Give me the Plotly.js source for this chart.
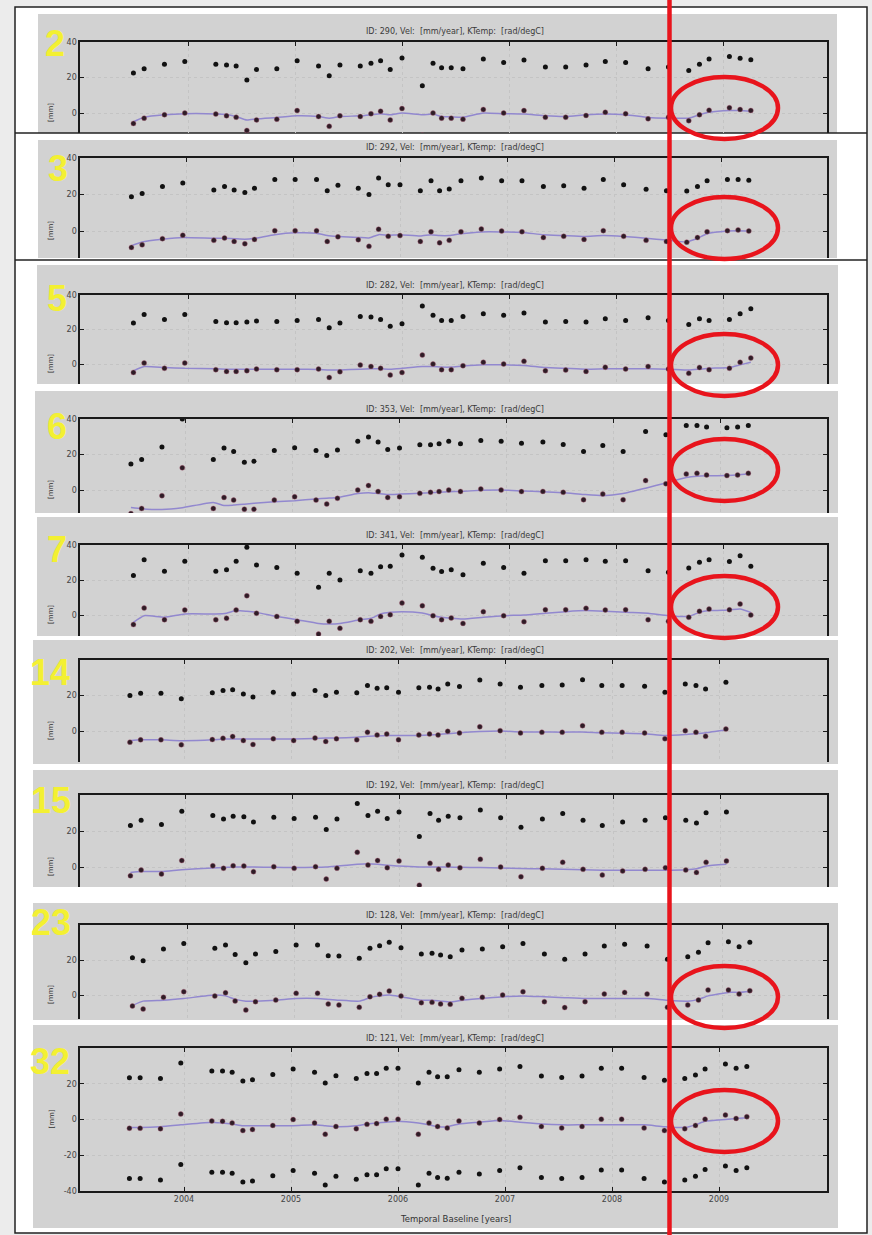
<!DOCTYPE html>
<html><head><meta charset="utf-8">
<script src="https://cdn.plot.ly/plotly-3.0.1.min.js"></script>
<style>html,body{margin:0;padding:0;background:#fff;} #chart{width:872px;height:1235px;}</style>
</head><body><div id="chart"></div>
<script>
// ---------------- DATA ----------------
const dates = [2003.49,2003.59,2003.78,2003.97,2004.26,2004.36,2004.45,2004.55,2004.64,2004.83,
  2005.02,2005.22,2005.32,2005.42,2005.61,2005.71,2005.80,2005.89,2006.00,2006.19,
  2006.29,2006.37,2006.46,2006.57,2006.76,2006.95,2007.14,2007.34,2007.53,2007.72,
  2007.90,2008.09,2008.30,2008.49,2008.68,2008.78,2008.87,2009.06,2009.16,2009.26];
const panelLabels = ['2','3','5','6','7','14','15','23','32'];
const panelIds = ['290','292','282','353','341','202','192','128','121'];
const yearTicks = [2004,2005,2006,2007,2008,2009];
const yTicks = [-40,-20,0,20,40];

const p2_up = [22.5,25,27.5,29,27.5,27,26.5,18.6,24.5,25,29.4,26.5,21,27,26.5,28,29.4,24.5,31,15.3,28,25.5,25.5,25,30.4,28.4,29.8,25.9,25.9,27,29,28.4,25,25.9,24,27.5,30.4,31.8,30.8,30];
const p2_lo = [-5.9,-2.9,-1,0,-0.6,-1.6,-2.4,-9.8,-3.9,-3.5,1.4,-2,-7.5,-1.6,-2,-0.4,1,-3.9,2.5,-12.5,0,-2.9,-2.9,-3.5,2,0,1.4,-2.4,-2.4,-1.4,0.4,-0.4,-3.3,-2.4,-4.3,-1,1.6,3,2,1.4];
const p2_fit = [-4.9,-2.4,-1,-0.4,-0.5,-0.8,-2,-4,-3.3,-2.5,-1.6,-2,-2.9,-2,-1.6,-1,-0.4,-1,0,-1,-0.6,-2,-2.2,-2.4,0,-0.4,-0.6,-1.6,-2,-1,-0.6,-1,-2.5,-2.9,-2.9,-1,0.4,1.4,1.4,1];

const p3_up = [18.7,20.6,24.4,26.3,22.5,24.4,22.5,21.1,23.4,28.2,28.2,28.2,22.1,25,23.4,20,29.1,25.3,25.3,22.1,27.6,22,23,27.6,29,27.6,27.6,24.4,24.8,23.4,28.2,25.3,22.9,22.1,21.9,24.4,27.6,28.2,28.2,27.8];
const p3_lo = [-9,-7.6,-4.2,-2.3,-5.1,-3.8,-5.7,-7,-4.6,0.2,0.2,0.2,-5.7,-3.2,-4.8,-8.4,1,-2.9,-2.5,-5.7,-0.4,-6.5,-5.1,-0.4,1.1,0,-0.4,-3.6,-2.9,-4.6,0.2,-2.9,-5.1,-5.7,-6.1,-3.6,-0.4,0.2,0.6,0];
const p3_fit = [-8,-6,-4.5,-3.5,-4,-4,-4.2,-4.5,-4,-2,-1,-1.2,-2.5,-3,-3.5,-3.8,-2,-2.3,-2,-2.8,-2,-2.5,-2.5,-1.5,-0.5,-0.5,-0.8,-2,-2.5,-3,-2.5,-3,-4,-5,-6,-4,-1.5,0,0.2,0];

const p5_up = [23.7,28.7,25.8,28.7,24.7,23.9,23.9,24.3,24.9,24.7,25.2,25.8,21,23.7,27.6,27.2,25.8,21.9,23.3,33.6,28.2,25.2,25.2,27.6,29.1,28.2,29.5,24.3,24.7,24.3,26.2,25.2,26.8,25.2,22.9,26.2,25.2,25.8,29.1,32];
const p5_lo = [-4.9,0.6,-2.5,0.6,-3.3,-4.3,-4.3,-3.9,-2.9,-3.3,-3.3,-2.9,-7.8,-4.5,-0.6,-1.4,-2.5,-6.4,-4.9,5.2,0,-3.3,-3.3,-1,1,0,1.6,-3.9,-3.5,-4.3,-1.9,-2.9,-1.4,-2.9,-5.4,-2.1,-3.3,-2.5,1,3.5];
const p5_fit = [-4,-1.5,-2,-2.5,-2.8,-3,-3,-3,-3,-3,-3,-3.2,-3.5,-3.5,-3,-2.8,-2.8,-3,-2.5,-1.5,-1.5,-1.8,-1.8,-1.2,-0.5,-0.5,-0.8,-2,-2.5,-3,-2.8,-2.8,-2.8,-3,-3.5,-3,-2.5,-2,-0.5,1];

const p6_up = [14.7,17.2,24.2,40,17.2,23.6,21.7,15.7,16.2,22.3,23.8,22.3,19.4,22.6,27.5,29.8,27,22.8,23.6,25.5,25.5,26,27.5,26,27.9,27.5,26.4,27,25.7,21.7,25.1,21.7,33,31.1,36.4,36.4,35.5,35.1,35.5,36.4];
const p6_lo = [-13.3,-10.4,-3.2,12.5,-10.4,-4.2,-5.7,-10.8,-10.8,-5.7,-3.8,-5.7,-7.9,-4.7,0,2.5,-0.8,-4.2,-3.8,-1.9,-1.3,-0.9,0,-0.8,0.6,0,-0.9,-0.8,-1.3,-5.5,-2.3,-5.5,5.3,3.5,9,9.4,8.5,8.1,8.5,9.4];
const p6_fit = [-9.8,-10.5,-11,-10,-7,-8.7,-8.5,-8,-7.5,-6.6,-6,-5,-4.6,-4.2,-2,-1.5,-2,-2.5,-2.3,-1.8,-1.5,-1.2,-1,-0.8,-0.2,0,-0.5,-1,-1.5,-2.5,-3.2,-2,1,4,7,7.8,8,8.2,8.5,9];

const p7_up = [22.5,31.6,25,30.7,25,25.9,30.7,38.7,28.6,27.2,23.8,15.8,23.8,20,25.3,23.8,27.6,27.8,34.3,33,26.7,24.8,25.9,23,29.5,27.2,23.8,31,31,31.6,30.7,31,25.3,24.4,26.9,30.1,31.6,30.5,33.9,27.8];
const p7_lo = [-5.5,4,-2.7,2.9,-2.7,-1.9,2.9,11,1,-0.8,-3.6,-10.9,-3.6,-7.6,-2.7,-3.6,-0.8,0.2,6.9,5.3,-0.4,-2.7,-1.7,-4.8,1.9,-0.4,-3.8,3,3,3.8,2.9,3,-2.7,-3.6,-1.3,2.1,3.4,3,6.3,0];
const p7_fit = [-4.2,-0.4,-1.3,0.6,0.6,1,2.5,2.1,1.5,-0.8,-2.7,-4.8,-5.1,-4.8,-2.7,-1.9,0.6,1.5,1.9,1.1,-0.4,-1.3,-1.9,-2.3,-1.3,-0.4,0,1,1.9,2.5,2.1,1.5,1,-0.4,-0.8,1.5,2.5,2.9,3.4,1.5];

const p14_up = [20,21.3,21.3,18.1,21.5,22.8,23.3,20.9,19.1,21.9,20.9,22.8,20,21.9,21.5,25.6,24.1,24.3,21.9,24.3,24.6,23.7,26.5,25,28.7,26.5,24.6,25.6,25.9,28.9,25.6,25.6,25.2,21.9,26.5,25.6,23.7,27.4,null,null];
const p14_lo = [-6.3,-5,-5,-7.8,-4.8,-4.1,-3.1,-5.4,-7.6,-4.4,-5.4,-3.9,-5.9,-4.4,-5,-0.7,-2.2,-1.7,-5,-2.2,-1.7,-2.2,-0.2,-1.1,2.4,0.2,-1.1,-0.7,-0.7,3,-0.7,-0.7,-1.1,-4.4,0.2,-0.7,-3,1.1,null,null];
const p14_fit = [-5.5,-5,-5,-5.5,-5,-4.5,-4.5,-4.5,-4.5,-4.5,-4.5,-4.2,-4,-4,-3.5,-3,-2.8,-2.5,-2.5,-2.5,-2.3,-2,-1.5,-1,-0.3,0,-0.5,-0.5,-0.7,-0.5,-1,-1.2,-1.5,-2.5,-2,-1.5,-1,0.5,null,null];

const p15_up = [23,26,23.6,31,28.6,26.7,28.2,27.9,25,27.7,26.9,27.7,20.8,26.7,35.3,28.6,31,26.9,30.5,17,29.7,26,28.2,27.3,31.6,27.3,22.1,26.7,29.7,26,23,25,26,27.3,26,24.5,30.1,30.5,null,null];
const p15_lo = [-4.9,-1.7,-3.9,3.6,0.7,-0.7,0.7,0.6,-2.6,0.2,-0.7,0.2,-6.7,-0.7,8.2,1.1,3.6,-0.4,3.4,-10.1,2.1,-1.3,1.1,-0.4,4.3,0,-5.4,-0.7,2.6,-1.3,-4.5,-2.2,-1.3,-0.4,-1.7,-3,2.6,3.4,null,null];
const p15_fit = [-3,-2.5,-2.5,-1.5,-0.5,-0.3,0,0,0,-0.2,-0.3,-0.2,0,0.5,1.5,1.8,1.5,1,0.5,0,0,0,0,-0.2,-0.3,-0.5,-0.8,-1,-1.2,-1.5,-1.8,-1.8,-1.8,-1.8,-1.5,-1,0.5,1.5,null,null];

const p23_up = [21.3,19.6,26.3,29.5,26.7,28.6,23.2,18.5,23.4,24.8,28.6,28.6,22.5,22.3,21,26.7,28.2,30.1,27,23.4,23.8,22.9,21.9,25.7,26.3,27.6,29.5,23.4,20.4,23.4,28,29,28,20.4,21.9,24.4,29.9,30.5,27.6,30.1];
const p23_lo = [-6.3,-8,-1.3,1.9,-0.6,1.3,-3.4,-8.6,-3.8,-2.9,1,1,-5.1,-5.7,-7,-1,0.4,2.3,-0.6,-4.4,-4.2,-5.1,-5.3,-1.9,-1.3,0,1.9,-3.8,-7.2,-3.8,0.6,1.5,0.6,-7,-5.7,-2.9,2.9,2.9,0.6,2.5];
const p23_fit = [-6,-3.5,-3,-2,0,-0.5,-2.5,-3.5,-3.5,-3,-2,-2,-2.5,-3,-3.5,-1.5,-0.5,0,-1,-3,-3,-3.5,-4,-3,-2,-1,-0.5,-1,-1.5,-2,-2,-2,-2,-3,-3.5,-2.5,-0.5,1.5,1.5,2];

const p32_up = [23.3,23.3,22.9,31.6,27.2,27.2,26.4,21.6,22.3,25.2,28.2,26.4,20.4,24.5,22.9,25.8,25.8,28.7,28.7,20.4,26.4,23.9,23.9,27.8,26.4,28.3,29.7,24.3,23.5,24.3,28.7,28.7,23.5,21.9,22.9,24.9,28.3,31.1,28.7,29.7];
const p32_mid = [-4.9,-4.9,-5.2,3.1,-0.8,-1,-1.9,-6.2,-5.6,-3.3,0,-1.9,-8.2,-3.9,-5.2,-2.7,-2.3,0.2,0.2,-8.2,-1.9,-3.9,-4.7,-0.8,-1.9,0,1.2,-3.9,-4.7,-3.9,0.2,0.2,-4.7,-6.2,-5.2,-3.3,0.2,2.5,0.6,1.6];
const p32_lo = [-33,-33,-33.8,-25.2,-29.5,-29.5,-30.1,-35,-34.4,-31.5,-28.5,-30.1,-36.7,-31.8,-33.4,-30.9,-30.9,-27.6,-27.6,-36.7,-30.1,-32.4,-32.8,-29.5,-30.5,-28.5,-27,-32.4,-33,-32.4,-28.2,-28.2,-33,-35,-33.8,-31.8,-28,-26,-28.5,-27];
const p32_fit = [-4.5,-4.5,-4,-3,-1.5,-2,-2.5,-3.5,-3.5,-3.5,-3.5,-3,-3.5,-4,-3.5,-2.5,-2,-1.5,-1,-2,-3,-4,-4,-2.5,-1.5,-0.5,-1.5,-2.5,-3,-3,-3,-3,-3,-4,-4.5,-3,-1,0,0.5,1];

// ---------------- LAYOUT GEOMETRY (pixels) ----------------
const W = 872, H = 1235;
const series = [
  [p2_up, p2_lo, p2_fit], [p3_up, p3_lo, p3_fit], [p5_up, p5_lo, p5_fit],
  [p6_up, p6_lo, p6_fit], [p7_up, p7_lo, p7_fit], [p14_up, p14_lo, p14_fit],
  [p15_up, p15_lo, p15_fit], [p23_up, p23_lo, p23_fit], [p32_up, p32_mid, p32_fit, p32_lo]
];
// hide40: the "40" tick label is covered by the big yellow number in the reference
const geom = [
  {top:42,  zero:113,  bot:133,  sh:4,   gray:[38,837,14,133],   lab:[55,43],   ell:108,  hide40:false},
  {top:158, zero:231,  bot:258,  sh:2,   gray:[38,837,140,258],  lab:[58,168],  ell:228,  hide40:false},
  {top:295, zero:364,  bot:384,  sh:4,   gray:[37,838,265,384],  lab:[57,299],  ell:365,  hide40:false},
  {top:419, zero:490,  bot:513,  sh:1.5, gray:[35,838,391,513],  lab:[57,426],  ell:470,  hide40:false},
  {top:545, zero:615,  bot:636,  sh:4,   gray:[37,838,517,636],  lab:[57,549],  ell:607,  hide40:false},
  {top:660, zero:731,  bot:762,  sh:0.5, gray:[33,838,640,764],  lab:[50,672],  ell:null, hide40:true},
  {top:795, zero:867,  bot:887,  sh:1,   gray:[33,838,770,887],  lab:[51,800],  ell:null, hide40:true},
  {top:925, zero:995,  bot:1019, sh:3,   gray:[33,838,903,1020], lab:[51,922],  ell:997,  hide40:true},
  {top:1048,zero:1119.5,bot:1191,sh:0,   gray:[33,838,1025,1228],lab:[50,1061], ell:1121, hide40:true}
];
const PXYR = 107, LEFT = 80, RIGHT = 827, X2004 = 184;
const px = x => x / W, py = y => 1 - y / H;

const data = [], shapes = [], annotations = [];
const layout = {
  width: W, height: H, margin: {l:0, r:0, t:0, b:0},
  paper_bgcolor: '#ffffff', plot_bgcolor: '#ffffff', showlegend: false,
  font: {family: 'DejaVu Sans', size: 8, color: '#333'}
};

// page background + outer border
shapes.push({type:'rect', xref:'paper', yref:'paper', x0:0, x1:1, y0:0, y1:1, fillcolor:'#ececec', line:{width:0}, layer:'below'});
shapes.push({type:'rect', xref:'paper', yref:'paper', x0:px(15), x1:px(867), y0:py(1233), y1:py(7), fillcolor:'#ffffff', line:{color:'#222', width:1.5}, layer:'below'});

geom.forEach((g, i) => {
  const n = i + 1, xa = 'xaxis' + (n > 1 ? n : ''), ya = 'yaxis' + (n > 1 ? n : '');
  const xr = 'x' + (n > 1 ? n : ''), yr = 'y' + (n > 1 ? n : '');
  const last = i === geom.length - 1;
  const k = (g.zero - g.top) / 40;
  const ymin = -(g.bot - g.zero) / k;
  const x0 = 2004 - (X2004 - LEFT) / PXYR - g.sh / PXYR;
  const x1 = 2004 + (RIGHT - X2004) / PXYR - g.sh / PXYR;
  layout[xa] = {
    domain: [px(LEFT), px(RIGHT)], range: [x0, x1], anchor: yr,
    side: last ? 'bottom' : 'top', showline: true, linecolor: '#1a1a1a', linewidth: 1.6,
    mirror: last ? 'ticks' : false, ticks: 'inside', ticklen: 4, tickcolor: '#1a1a1a',
    tickvals: yearTicks, ticktext: yearTicks.map(String), showticklabels: last,
    tickfont: {size: 8, color: '#444'}, showgrid: true, gridcolor: '#c4c4c4', griddash: 'dot', gridwidth: 1,
    zeroline: false, fixedrange: true
  };
  layout[ya] = {
    domain: [py(g.bot), py(g.top)], range: [ymin, 40], anchor: xr,
    showline: true, linecolor: '#1a1a1a', linewidth: 1.6, mirror: 'ticks',
    ticks: 'inside', ticklen: 4, tickcolor: '#1a1a1a', tickvals: yTicks,
    ticktext: yTicks.map(v => (v === 40 && g.hide40) ? '' : String(v)),
    tickfont: {size: 8, color: '#444'}, showgrid: true, gridcolor: '#c4c4c4', griddash: 'dot', gridwidth: 1,
    zeroline: false, fixedrange: true
  };
  // gray figure panel
  shapes.push({type:'rect', xref:'paper', yref:'paper', x0:px(g.gray[0]), x1:px(g.gray[1]), y0:py(g.gray[3]), y1:py(g.gray[2]), fillcolor:'#d2d2d2', line:{width:0}, layer:'below'});

  const s = series[i];
  data.push({x: dates, y: s[2], xaxis: xr, yaxis: yr, type: 'scatter', mode: 'lines',
    line: {color: '#9288cf', width: 1.5, shape: 'spline', smoothing: 0.5}, connectgaps: false, hoverinfo: 'skip'});
  data.push({x: dates, y: s[0], xaxis: xr, yaxis: yr, type: 'scatter', mode: 'markers',
    marker: {color: '#111111', size: 5}, hoverinfo: 'skip'});
  data.push({x: dates, y: s[1], xaxis: xr, yaxis: yr, type: 'scatter', mode: 'markers',
    marker: {color: '#2e1c26', size: 5, line: {color: '#b0607a', width: 0.4}}, hoverinfo: 'skip'});
  if (s[3]) data.push({x: dates, y: s[3], xaxis: xr, yaxis: yr, type: 'scatter', mode: 'markers',
    marker: {color: '#111111', size: 5}, hoverinfo: 'skip'});

  // panel title
  annotations.push({xref:'paper', yref:'paper', x: px(455), y: py(g.top - 10), xanchor:'center', yanchor:'middle',
    text: 'ID: ' + panelIds[i] + ', Vel:  [mm/year], KTemp:  [rad/degC]', showarrow:false,
    font:{size: 8, color:'#3a3a3a', family:'DejaVu Sans'}});
  // y label
  annotations.push({xref:'paper', yref:'paper', x: px(51), y: py(g.zero), xanchor:'center', yanchor:'middle',
    text: '[mm]', textangle: -90, showarrow:false, font:{size: 7, color:'#333'}});
  // big yellow panel number
  annotations.push({xref:'paper', yref:'paper', x: px(g.lab[0]), y: py(g.lab[1]), xanchor:'center', yanchor:'middle',
    text: '<b>' + panelLabels[i] + '</b>', showarrow:false,
    font:{size: 36, color:'#f3f032', family:'Liberation Sans'}});
  // red ellipse
  if (g.ell !== null) shapes.push({type:'circle', xref:'paper', yref:'paper',
    x0: px(724.5 - 53.5), x1: px(724.5 + 53.5), y0: py(g.ell + 31), y1: py(g.ell - 31),
    line:{color:'#e8141c', width:4.5}, fillcolor:'rgba(0,0,0,0)', layer:'above'});
});

// separators between the first screenshots
[133, 260].forEach(y => shapes.push({type:'line', xref:'paper', yref:'paper', x0:px(15), x1:px(867), y0:py(y), y1:py(y), line:{color:'#222', width:1.5}, layer:'below'}));
// red vertical marker line
shapes.push({type:'line', xref:'paper', yref:'paper', x0:px(669.5), x1:px(669.5), y0:0, y1:1, line:{color:'#e8141c', width:4.5}, layer:'above'});
// x axis title of last panel
annotations.push({xref:'paper', yref:'paper', x: px(455), y: py(1219), xanchor:'center', yanchor:'middle',
  text:'Temporal Baseline [years]', showarrow:false, font:{size: 8.5, color:'#333'}});

layout.shapes = shapes;
layout.annotations = annotations;
Plotly.newPlot('chart', data, layout, {staticPlot: true, displayModeBar: false});
</script></body></html>
